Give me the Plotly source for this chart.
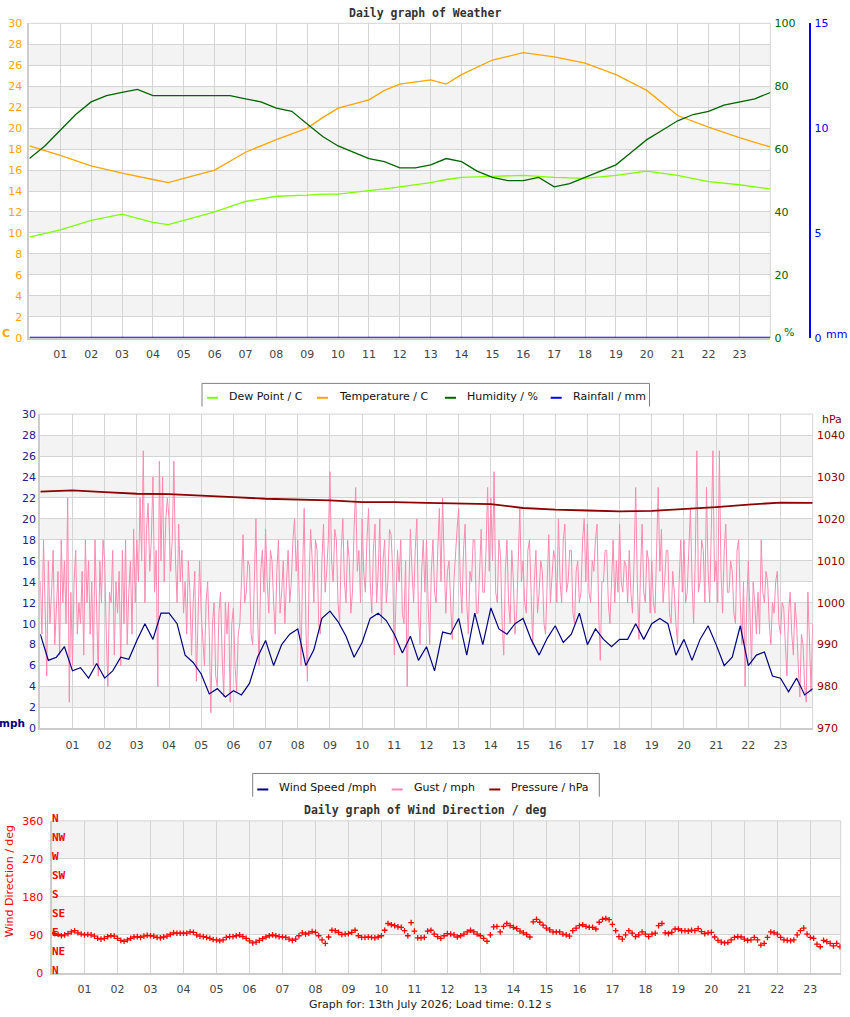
import plotly.graph_objects as go

W, H = 850, 1017
# empirical vertical correction of the rendered page (measured from a test render)
VS, VO = 0.987, 6.0


def px(x):
    return x / W


def py(y):
    return 1 - ((y - VO) / VS) / H


hour_ticks = list(range(1, 24))
hour_labels = [f"{h:02d}" for h in hour_ticks]

# ---------------- Weather panel ----------------
th_hours = [0, 1, 2, 3, 4, 4.5, 5, 6, 7, 8, 9, 9.5, 10, 11, 11.5, 12, 13, 13.5, 14,
            15, 16, 17, 18, 19, 20, 21, 22, 23, 24]
temperature_c = [18.3, 17.4, 16.4, 15.7, 15.1, 14.8, 15.2, 16.0, 17.7, 18.9, 20.0, 21.0, 21.9,
                 22.7, 23.6, 24.2, 24.6, 24.2, 25.1, 26.5, 27.2, 26.8, 26.2, 25.1, 23.6, 21.2,
                 20.1, 19.1, 18.2]
dew_point_c = [9.6, 10.3, 11.2, 11.8, 11.0, 10.8, 11.2, 12.0, 13.0, 13.5, 13.6, 13.7, 13.7,
               14.0, 14.2, 14.4, 14.8, 15.1, 15.3, 15.4, 15.5, 15.3, 15.2, 15.5, 15.9, 15.5,
               14.9, 14.6, 14.2]
hum_hours = [i * 0.5 for i in range(49)]
humidity_pct = [57, 61, 66, 71, 75, 77, 78, 79, 77, 77, 77, 77, 77, 77, 76, 75, 73, 72, 68, 64,
                61, 59, 57, 56, 54, 54, 55, 57, 56, 53, 51, 50, 50, 51, 48, 49, 51, 53, 55, 59,
                63, 66, 69, 71, 72, 74, 75, 76, 78]
rain_hours = [0, 24]
rainfall_mm = [0, 0]

# ---------------- Wind panel ----------------
wind_hours = [i * 0.25 for i in range(97)]
wind_speed_mph = [
    9.0, 6.5, 6.8, 7.8, 5.5, 5.8, 4.8, 6.2, 4.8, 5.5, 6.8, 6.6, 8.4, 10.0, 8.5, 11.0,
    11.0, 10.0, 7.0, 6.3, 5.2, 3.3, 3.8, 3.0, 3.6, 3.2, 4.3, 6.8, 8.4, 6.0, 8.0, 9.0,
    9.5, 6.0, 7.5, 10.5, 11.2, 10.2, 8.8, 6.8, 8.2, 10.5, 11.0, 10.3, 9.0, 7.2, 8.8, 6.5,
    7.8, 5.5, 9.2, 9.0, 10.5, 7.0, 11.0, 8.0, 11.5, 9.5, 9.0, 10.0, 10.5, 8.5, 7.0, 8.6,
    9.8, 8.2, 9.0, 11.0, 8.0, 9.5, 8.5, 7.8, 8.5, 8.5, 10.0, 8.5, 10.0, 10.5, 10.0, 7.0,
    8.5, 6.5, 8.5, 9.8, 8.0, 6.0, 6.8, 9.8, 6.0, 7.0, 7.3, 5.0, 4.8, 3.5, 4.8, 3.2, 3.8]
gust_mph = [
    14, 9, 18, 12, 5, 16, 10, 13, 17, 8, 11, 15, 7, 18, 12, 16, 10, 22, 2.5, 13,
    6, 14, 17, 9, 12, 10, 15, 7, 18, 12, 16, 9, 14, 6, 18, 11, 5, 16, 12, 18,
    16, 9, 4, 13, 12, 17, 7, 14, 11, 15, 6, 17, 10, 18, 8, 13, 16, 9, 19, 12,
    18, 14, 22, 16, 26.5, 12, 19, 21.5, 15, 18, 24, 13, 17, 4, 25.5, 16, 24, 14, 20, 22,
    20, 15, 18, 25.5, 16, 12, 19.5, 14, 17, 11, 14, 9, 16, 13, 7, 12, 15, 4.5, 11, 16,
    11, 8, 6, 12, 14, 9, 1.5, 10, 12, 5, 4, 11, 13, 7, 3, 12, 9, 12, 2.5, 10,
    11.5, 6, 3.5, 9, 10, 14, 18.5, 12, 13, 16, 15.5, 9, 8, 14, 20, 11, 6, 15, 17, 13,
    19, 14, 11, 17, 16, 12, 9, 15, 18, 11, 13, 16, 10, 14, 17, 12, 14, 18, 20, 15,
    18, 12, 6, 15, 21, 10, 4.5, 14, 19, 16, 12, 18, 17, 10, 9, 16, 19.5, 13, 15, 18,
    24.5, 16, 14, 19, 18, 12, 10, 17, 20, 14, 12, 18, 16, 11, 13, 19, 23, 15, 17, 12,
    20, 15, 13, 18, 21, 14, 11, 17, 19.5, 12, 15, 20, 10, 16, 18, 12, 14, 19, 18.5, 15,
    7, 12, 17, 14, 18, 11, 10, 16, 4, 13, 19, 15, 12, 17, 20, 11, 8, 15, 18, 13,
    18, 12, 8, 15, 18, 13, 12, 17, 21, 14, 22, 16, 11, 15, 16, 12, 8.5, 14, 17, 19,
    21, 14, 11, 17, 19.5, 12, 9, 15, 14, 18, 18, 11, 11, 16, 19, 13, 13, 17, 23, 15,
    22, 16, 24.5, 13, 12, 18, 16.5, 10, 7, 15, 18, 12, 10, 17, 14, 9, 11, 16, 21, 14,
    16, 12, 11, 17, 18, 13, 8, 14, 17, 11, 13, 16, 15, 10, 9, 14, 18.5, 12, 15, 17,
    16, 12, 20, 14, 12, 18, 19.5, 13, 14, 17, 17, 11, 10, 15, 16, 12, 13, 18, 20, 14,
    19.5, 13, 12, 16, 15, 18, 19.5, 11, 6.5, 14, 14, 17, 17, 12, 10, 15, 18, 12, 16, 13,
    19.5, 14, 13, 16, 15.5, 12, 17, 13, 11, 16, 23, 14, 8.5, 15, 19.5, 13, 12, 17, 16, 11,
    16, 12, 11, 17, 23, 15, 19, 12, 14, 17, 17, 11, 10, 15, 13, 10, 8, 14, 18, 13,
    18, 12, 13, 17, 21, 14, 10, 16, 26.5, 13, 14, 18, 17, 12, 23, 15, 12, 19, 26.5, 14,
    16, 12, 26.5, 15, 11, 17, 19.5, 13, 13, 16, 15, 11, 10, 17, 18, 12, 8, 14, 4, 12,
    16, 11, 6, 14, 12, 9, 13, 9, 18, 13, 12, 15, 14, 10, 8, 12, 11, 14, 15, 10,
    9, 12, 11.5, 8, 5, 11, 13, 9, 7, 12, 10, 6, 3, 9, 8, 4, 2.5, 13, 7, 3.5, 10]
gust_hours = [i * 0.05 for i in range(len(gust_mph))]
pressure_hours = list(range(25))
pressure_hpa = [1026.5, 1026.8, 1026.4, 1026.0, 1025.9, 1025.6, 1025.2, 1024.8, 1024.6, 1024.4,
                1024.0, 1024.0, 1023.8, 1023.6, 1023.5, 1022.6, 1022.2, 1022.0, 1021.8, 1021.9,
                1022.3, 1022.8, 1023.4, 1023.9, 1023.8]

# ---------------- Wind direction panel ----------------
wind_dir_deg = [
    95, 93, 91, 88, 90, 93, 97, 100, 95, 92,
    90, 91, 90, 87, 82, 80, 82, 86, 88, 87,
    82, 77, 75, 78, 82, 85, 86, 84, 87, 89,
    88, 87, 84, 83, 85, 87, 91, 95, 94, 94,
    94, 94, 97, 96, 90, 87, 86, 84, 82, 79,
    78, 76, 78, 84, 86, 86, 88, 90, 86, 82,
    76, 71, 73, 77, 81, 85, 88, 90, 88, 86,
    85, 84, 80, 77, 80, 88, 95, 92, 94, 98,
    96, 88, 78, 70, 85, 101, 100, 96, 91, 92,
    93, 96, 101, 88, 84, 84, 85, 84, 83, 85,
    88, 101, 117, 114, 112, 109, 108, 100, 88, 119,
    99, 83, 83, 84, 99, 101, 92, 86, 82, 88,
    93, 92, 90, 85, 88, 92, 97, 101, 97, 92,
    88, 82, 75, 90, 109, 110, 97, 110, 117, 112,
    108, 105, 99, 95, 91, 85, 121, 127, 120, 113,
    106, 102, 97, 97, 97, 92, 90, 87, 100, 106,
    112, 114, 110, 108, 108, 104, 120, 127, 129, 126,
    115, 100, 86, 80, 90, 100, 94, 86, 90, 97,
    92, 86, 92, 94, 112, 117, 95, 93, 96, 104,
    104, 100, 100, 99, 101, 100, 105, 98, 93, 95,
    96, 85, 77, 73, 71, 72, 78, 84, 86, 85,
    80, 77, 78, 84, 78, 66, 70, 84, 97, 95,
    92, 84, 78, 77, 76, 78, 90, 100, 106, 92,
    84, 82, 68, 62, 77, 74, 70, 64, 70, 62]
dir_hours = [i * 0.1 for i in range(len(wind_dir_deg))]

compass_deg = [0, 45, 90, 135, 180, 225, 270, 315, 360]
compass_txt = ["N", "NE", "E", "SE", "S", "SW", "W", "NW", "N"]

# ---------------- styling ----------------
GRID = "#d4d4d4"
BAND = "#f3f3f3"
EDGE = "#cccccc"
TRANSP = "rgba(0,0,0,0)"
FONT = "DejaVu Sans"
MONO = "DejaVu Sans Mono"
ORANGE = "#ffa500"
DGREEN = "#006400"
LGREEN = "#7fff00"
BLUE = "#0000ff"
NAVY = "#000080"
PINK = "#ff88b0"
DRED = "#8b0000"
RED = "#ff0000"

fig = go.Figure()

# top panel traces
fig.add_trace(go.Scatter(x=rain_hours, y=rainfall_mm, xaxis="x", yaxis="y3", mode="lines",
                         line=dict(color=BLUE, width=2), name="Rainfall / mm"))
fig.add_trace(go.Scatter(x=th_hours, y=dew_point_c, xaxis="x", yaxis="y", mode="lines",
                         line=dict(color=LGREEN, width=1.3), name="Dew Point / C"))
fig.add_trace(go.Scatter(x=th_hours, y=temperature_c, xaxis="x", yaxis="y", mode="lines",
                         line=dict(color=ORANGE, width=1.3), name="Temperature / C"))
fig.add_trace(go.Scatter(x=hum_hours, y=humidity_pct, xaxis="x", yaxis="y2", mode="lines",
                         line=dict(color=DGREEN, width=1.3), name="Humidity / %"))

# middle panel traces
fig.add_trace(go.Scatter(x=gust_hours, y=gust_mph, xaxis="x2", yaxis="y4", mode="lines",
                         line=dict(color=PINK, width=1), name="Gust / mph"))
fig.add_trace(go.Scatter(x=wind_hours, y=wind_speed_mph, xaxis="x2", yaxis="y4", mode="lines",
                         line=dict(color=NAVY, width=1.2), name="Wind Speed /mph"))
fig.add_trace(go.Scatter(x=pressure_hours, y=pressure_hpa, xaxis="x2", yaxis="y5", mode="lines",
                         line=dict(color=DRED, width=1.8), name="Pressure / hPa"))

# bottom panel traces
fig.add_trace(go.Scatter(x=dir_hours, y=wind_dir_deg, xaxis="x3", yaxis="y6", mode="markers",
                         marker=dict(symbol="cross-thin", size=4, line=dict(width=1.3, color=RED)),
                         name="Wind Direction"))


def xax(dom, anchor, rng):
    return dict(domain=dom, anchor=anchor, range=rng, tickmode="array", tickvals=hour_ticks,
                ticktext=hour_labels, showgrid=True, gridcolor=GRID, gridwidth=1, zeroline=False,
                ticks="outside", ticklen=5, tickcolor=TRANSP,
                tickfont=dict(family=FONT, size=11, color="#444444"),
                showline=True, linecolor=EDGE, linewidth=2, fixedrange=True)


def yax_left(dom, anchor, rng, dtick, color, ticklen):
    return dict(domain=dom, anchor=anchor, range=rng, dtick=dtick, tick0=rng[0], showgrid=True,
                gridcolor=GRID, zeroline=False, showline=True, linecolor=EDGE, linewidth=2,
                ticks="outside", ticklen=ticklen, tickcolor=TRANSP,
                tickfont=dict(family=FONT, size=11, color=color), fixedrange=True)


top_dom = [py(337.7), py(23.3)]
mid_dom = [py(728.3), py(414)]
bot_dom = [py(972.7), py(820.7)]
bot_x = [px(51.5), px(840.7)]

fig.update_layout(
    width=W, height=H, margin=dict(l=0, r=0, t=0, b=0),
    plot_bgcolor="white", paper_bgcolor="white", showlegend=False,
    xaxis=xax([px(29.4), px(770.3)], "y", [0, 24]),
    yaxis=yax_left(top_dom, "x", [0, 30], 2, ORANGE, 3),
    yaxis2=dict(overlaying="y", anchor="x", side="right", range=[0, 100], dtick=20,
                showgrid=False, zeroline=False, ticks="outside", ticklen=1, tickcolor=TRANSP,
                tickfont=dict(family=FONT, size=11, color=DGREEN), fixedrange=True),
    yaxis3=dict(overlaying="y", anchor="free", position=px(810.3), side="right", range=[0, 15],
                dtick=5, showgrid=False, zeroline=False, showline=True, linecolor=BLUE,
                linewidth=2, ticks="outside", ticklen=1, tickcolor=TRANSP,
                tickfont=dict(family=FONT, size=11, color=BLUE), fixedrange=True),
    xaxis2=xax([px(40.3), px(812.7)], "y4", [0, 24]),
    yaxis4=yax_left(mid_dom, "x2", [0, 30], 2, "#22228a", 0),
    yaxis5=dict(overlaying="y4", anchor="x2", side="right", range=[970, 1045], dtick=10,
                tick0=970, showgrid=False, zeroline=False, ticks="outside", ticklen=1,
                tickcolor=TRANSP, tickfont=dict(family=FONT, size=11, color=DRED),
                fixedrange=True),
    xaxis3=xax(bot_x, "y6", [0, 23.92]),
    yaxis6=yax_left(bot_dom, "x3", [0, 360], 90, RED, 4),
)

shapes = []
# alternating bands
for v in range(2, 30, 4):
    shapes.append(dict(type="rect", xref="x domain", yref="y", x0=0, x1=1, y0=v, y1=v + 2,
                       fillcolor=BAND, line=dict(width=0), layer="below"))
    shapes.append(dict(type="rect", xref="x2 domain", yref="y4", x0=0, x1=1, y0=v, y1=v + 2,
                       fillcolor=BAND, line=dict(width=0), layer="below"))
for v in (90, 270):
    shapes.append(dict(type="rect", xref="x3 domain", yref="y6", x0=0, x1=1, y0=v, y1=v + 90,
                       fillcolor=BAND, line=dict(width=0), layer="below"))
# right and top borders
for xr, yr in (("x", "y"), ("x2", "y4"), ("x3", "y6")):
    shapes.append(dict(type="line", xref=f"{xr} domain", yref=f"{yr} domain", x0=1, x1=1,
                       y0=0, y1=1, line=dict(color=GRID, width=1), layer="below"))
    shapes.append(dict(type="line", xref=f"{xr} domain", yref=f"{yr} domain", x0=0, x1=1,
                       y0=1, y1=1, line=dict(color=GRID, width=1), layer="below"))


# legend boxes (open at the bottom, clipped by the next graph)
def box(x0, x1, y0, y1):
    shapes.append(dict(type="rect", xref="paper", yref="paper", x0=px(x0), x1=px(x1),
                       y0=py(y1), y1=py(y0), fillcolor="white", line=dict(width=0), layer="above"))
    for (a, b, c, d) in ((x0, y0, x1, y0), (x0, y0, x0, y1), (x1, y0, x1, y1)):
        shapes.append(dict(type="line", xref="paper", yref="paper", x0=px(a), x1=px(c),
                           y0=py(b), y1=py(d), line=dict(color="#808080", width=1),
                           layer="above"))


box(202, 649.5, 383.3, 406.5)
box(252.7, 599.3, 773.3, 796.5)

annotations = []
legend1 = [("Dew Point / C", LGREEN, 227), ("Temperature / C", ORANGE, 337),
           ("Humidity / %", DGREEN, 465), ("Rainfall / mm", BLUE, 570.7)]
legend2 = [("Wind Speed /mph", NAVY, 277.3), ("Gust / mph", PINK, 411.7),
           ("Pressure / hPa", DRED, 509.3)]
for items, ty, sy in ((legend1, 396, 397.7), (legend2, 787, 789.3)):
    for txt, col, tx in items:
        shapes.append(dict(type="line", xref="paper", yref="paper", x0=px(tx - 20),
                           x1=px(tx - 9), y0=py(sy), y1=py(sy),
                           line=dict(color=col, width=2), layer="above"))
        annotations.append(dict(text=txt, x=px(tx), y=py(ty), xref="paper", yref="paper",
                                xanchor="left", yanchor="middle", showarrow=False,
                                font=dict(family=FONT, size=11, color="#111111")))

# titles
for txt, ty in (("Daily graph of Weather", 13), ("Daily graph of Wind Direction / deg", 810)):
    annotations.append(dict(text=txt, x=px(425), y=py(ty), xref="paper", yref="paper",
                            xanchor="center", yanchor="middle", showarrow=False,
                            font=dict(family=MONO, size=11.5, color="#333333", weight="bold")))
annotations.append(dict(text="Graph for: 13th July 2026; Load time: 0.12 s", x=px(430),
                        y=py(1004), xref="paper", yref="paper", xanchor="center",
                        yanchor="middle", showarrow=False,
                        font=dict(family=FONT, size=11, color="#222222")))

# unit labels
units = [("C", 6, 333, ORANGE, "bold", 11), ("%", 789, 332, DGREEN, "normal", 11),
         ("mm", 836, 334, BLUE, "normal", 11), ("mph", 12, 723, NAVY, "bold", 10.5),
         ("hPa", 832, 419, DRED, "normal", 11)]
for txt, ux, uy, col, wt, sz in units:
    annotations.append(dict(text=txt, x=px(ux), y=py(uy), xref="paper", yref="paper",
                            xanchor="center", yanchor="middle", showarrow=False,
                            font=dict(family=FONT, size=sz, color=col, weight=wt)))
annotations.append(dict(text="Wind Direction / deg", x=px(9), y=py(881), xref="paper",
                        yref="paper", xanchor="center", yanchor="middle", textangle=-90,
                        showarrow=False, font=dict(family=FONT, size=11, color=RED)))

# compass labels
for d, t in zip(compass_deg, compass_txt):
    annotations.append(dict(text=t, x=px(50), y=d, xref="paper", yref="y6", xanchor="left",
                            yanchor="middle", yshift=2.5, showarrow=False,
                            font=dict(family=MONO, size=11, color=RED, weight="bold")))

fig.update_layout(shapes=shapes, annotations=annotations)
fig.write_html("out.html")
